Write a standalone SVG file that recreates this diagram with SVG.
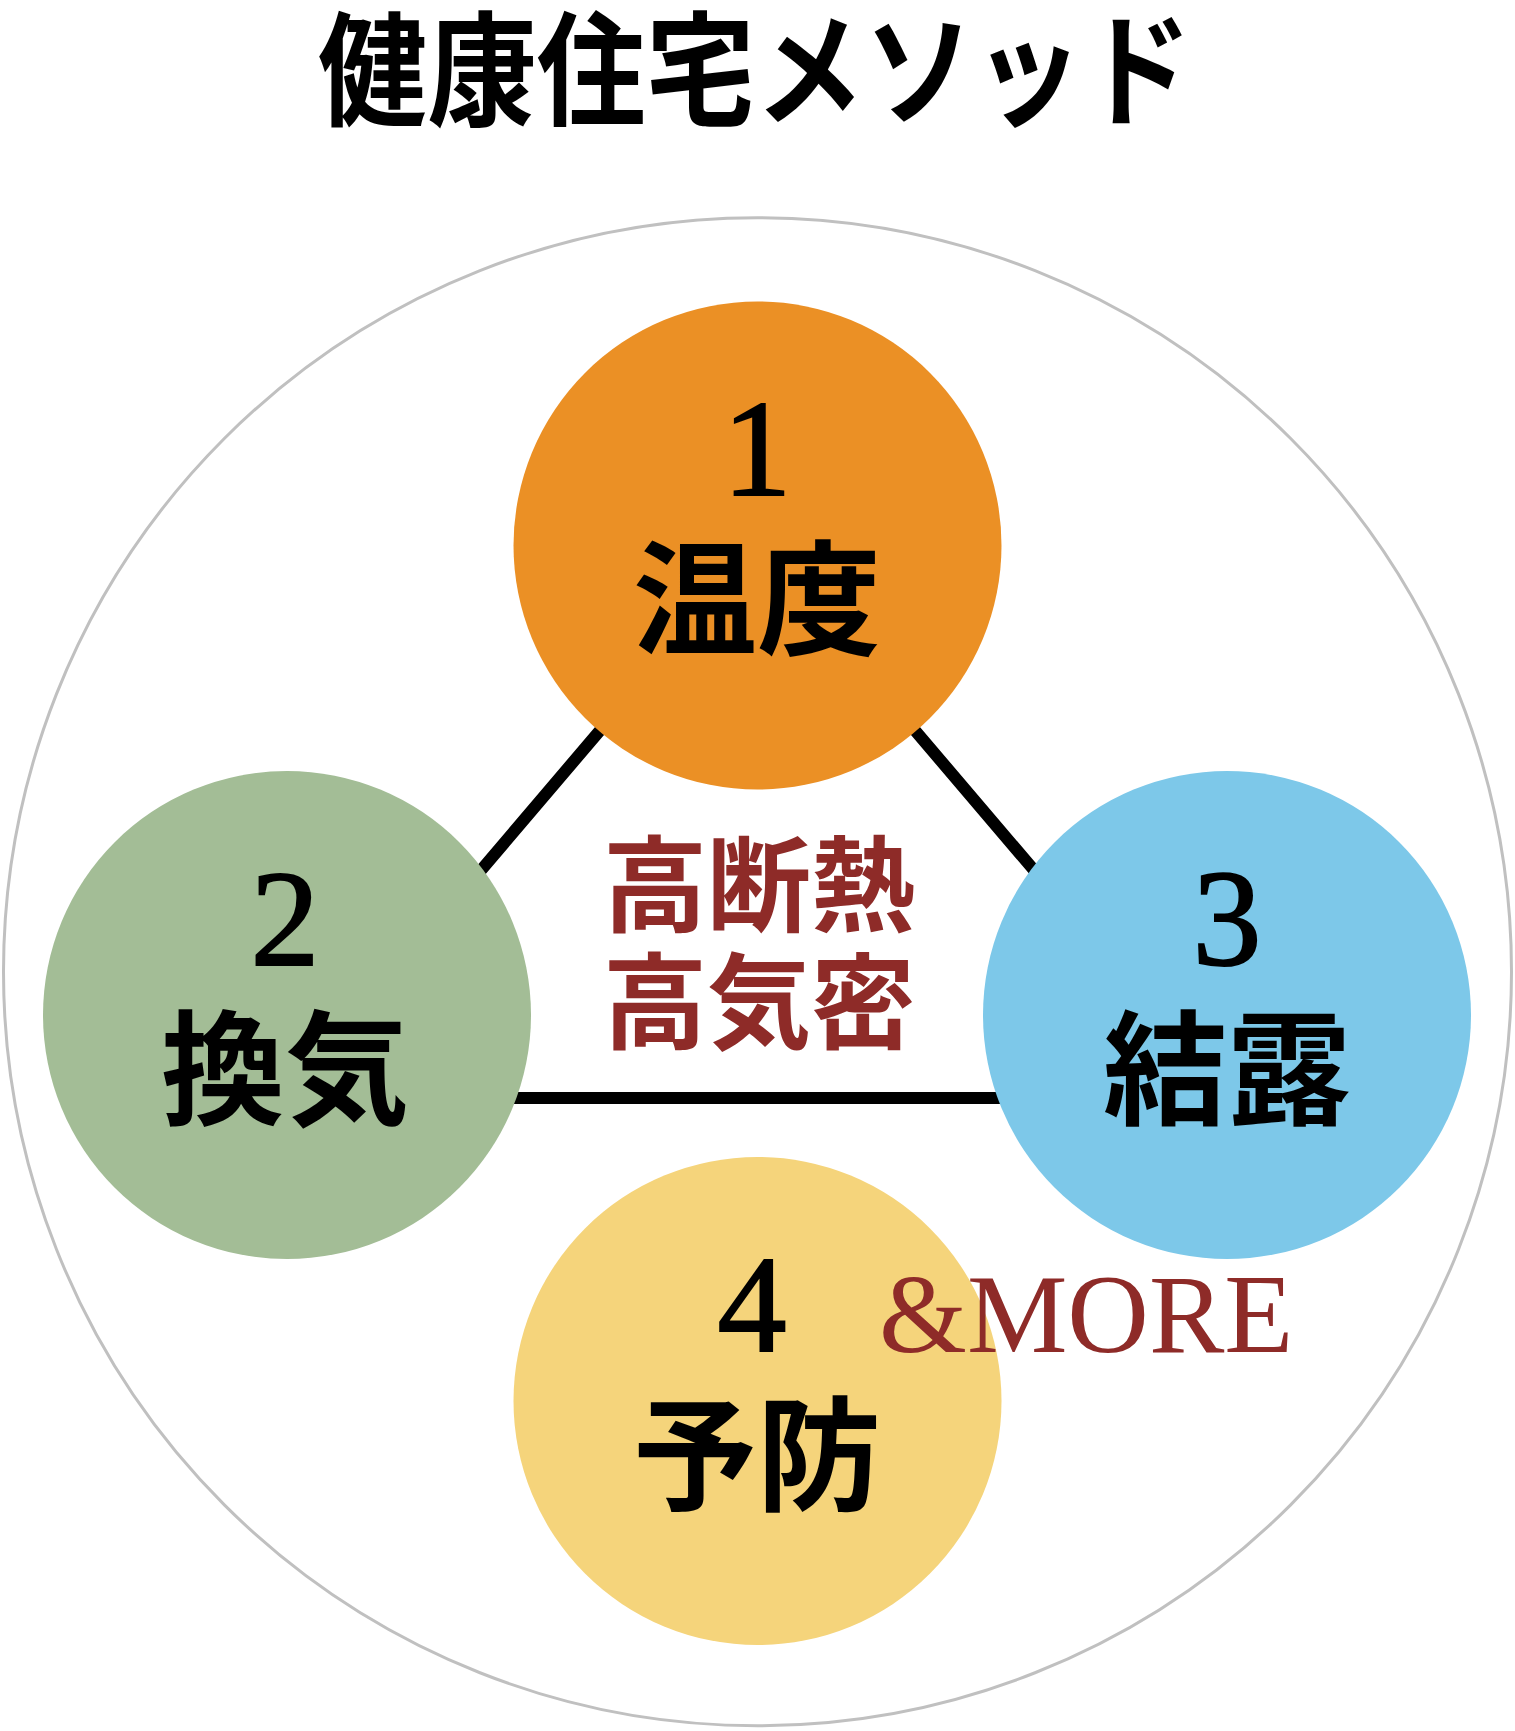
<svg xmlns="http://www.w3.org/2000/svg" width="1515" height="1731" viewBox="0 0 1515 1731">
<style>
.title{font-family:"Noto Sans CJK JP","Noto Sans",sans-serif;font-weight:700;font-size:124px;fill:#000}
.num{font-family:"Liberation Serif",serif;font-size:138px;fill:#000;stroke:#000;stroke-width:2;text-anchor:middle}
.lbl{font-family:"Noto Sans CJK JP","Noto Sans",sans-serif;font-weight:700;font-size:124px;fill:#000;text-anchor:middle}
.mid{font-family:"Noto Sans CJK JP","Noto Sans",sans-serif;font-weight:700;font-size:104px;fill:#8E2B28;text-anchor:middle}
.more{font-family:"Liberation Serif",serif;font-size:113px;fill:#8E2B28}
</style>
<rect width="1515" height="1731" fill="#fff"/>
<circle id="outer" cx="757.5" cy="971.7" r="754" fill="none" stroke="#C0C0C0" stroke-width="3"/>
<g id="title"><text class="title" x="318" y="116" textLength="874" lengthAdjust="spacingAndGlyphs">健康住宅メソッド</text></g>
<g id="connectors">
<polygon points="757.5,545.5 287,1098 1228,1098" fill="none" stroke="#000" stroke-width="12" stroke-linejoin="miter"/>
</g>
<g id="node1">
<circle cx="757.5" cy="545.5" r="244" fill="#EB9025"/>
<text class="num" x="757" y="495">1</text>
<text class="lbl" x="757" y="645">温度</text>
</g>
<g id="node2">
<circle cx="287" cy="1015" r="244" fill="#A3BD96"/>
<text class="num" x="285" y="965">2</text>
<text class="lbl" x="285" y="1115">換気</text>
</g>
<g id="node3">
<circle cx="1227" cy="1015" r="244" fill="#7DC8E9"/>
<text class="num" x="1227" y="965">3</text>
<text class="lbl" x="1227" y="1115">結露</text>
</g>
<g id="node4">
<circle cx="757.5" cy="1401" r="244" fill="#F5D47B"/>
<text class="num" x="752" y="1351">4</text>
<text class="lbl" x="757" y="1501">予防</text>
</g>
<g id="center">
<text class="mid" x="759" y="924">高断熱</text>
<text class="mid" x="759" y="1041">高気密</text>
</g>
<g id="more"><text class="more" x="879" y="1352">&amp;MORE</text></g>
</svg>
